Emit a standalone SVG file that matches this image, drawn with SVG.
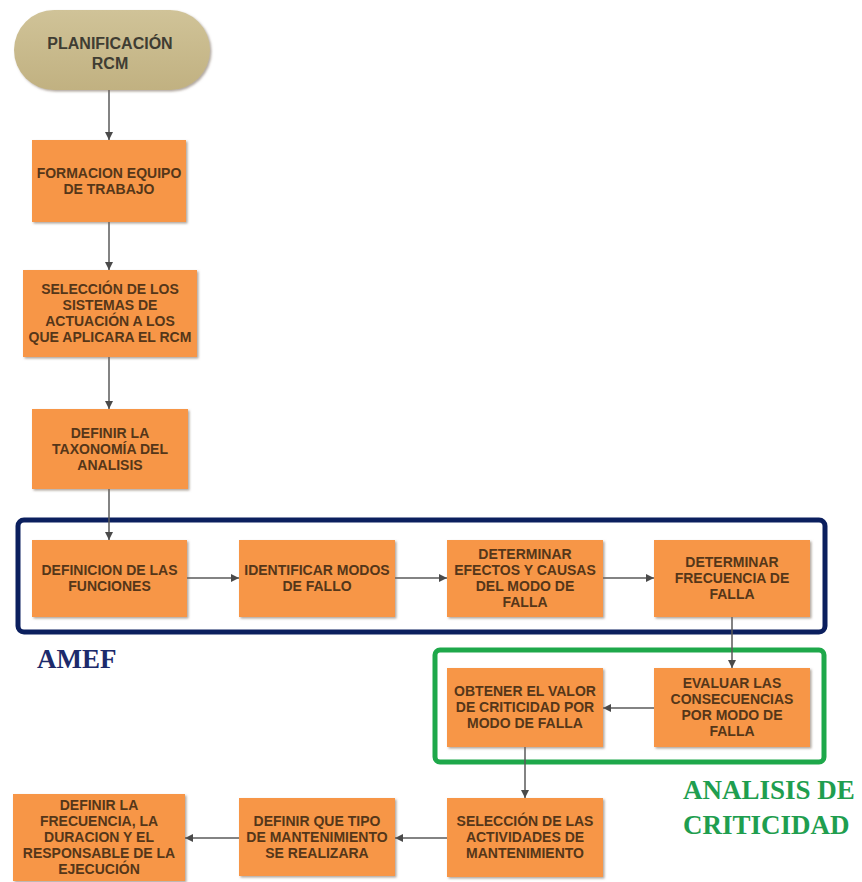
<svg xmlns="http://www.w3.org/2000/svg" width="862" height="882" viewBox="0 0 862 882">
<defs>
<style>
.box{fill:#f79646;filter:url(#sh);}
.t{font-family:"Liberation Sans",Arial,sans-serif;font-weight:bold;font-size:14px;fill:#553619;text-anchor:middle;}
.pt{font-family:"Liberation Sans",Arial,sans-serif;font-weight:bold;font-size:16px;fill:#3f3d33;text-anchor:middle;}
.c{fill:none;stroke:#5a5a5a;stroke-width:1.5;marker-end:url(#ah);}
.lbl{font-family:"Liberation Serif","Times New Roman",serif;font-weight:bold;}
</style>
<filter id="sh" x="-10%" y="-10%" width="125%" height="125%">
<feDropShadow dx="1.5" dy="1.5" stdDeviation="1.2" flood-color="#7a6a5a" flood-opacity="0.6"/>
</filter>
<linearGradient id="pg" x1="0" y1="0" x2="0" y2="1">
<stop offset="0" stop-color="#d0c398"/>
<stop offset="1" stop-color="#c1b181"/>
</linearGradient>
<marker id="ah" markerUnits="userSpaceOnUse" markerWidth="9" markerHeight="9" refX="8" refY="4.5" orient="auto">
<path d="M0,0.5 L8,4.5 L0,8.5 z" fill="#4a4a4a"/>
</marker>
</defs>
<rect width="862" height="882" fill="#ffffff"/>

<g id="frames">
<rect x="18" y="520" width="807" height="112" rx="6" fill="none" stroke="#0b1f5e" stroke-width="5"/>
<rect x="435" y="650" width="389" height="112" rx="5" fill="none" stroke="#1ea84a" stroke-width="5"/>
</g>

<g id="connectors">
<path class="c" d="M109,90 V140"/>
<path class="c" d="M109,222 V270"/>
<path class="c" d="M109,357 V409"/>
<path class="c" d="M109,489 V540"/>
<path class="c" d="M187,578 H239"/>
<path class="c" d="M395,578 H447"/>
<path class="c" d="M603,578 H654"/>
<path class="c" d="M732,617 V668"/>
<path class="c" d="M654,708 H603"/>
<path class="c" d="M525,747 V798"/>
<path class="c" d="M447,838 H395"/>
<path class="c" d="M239,838 H185"/>
</g>

<g id="n-planificacion">
<rect x="14" y="10" width="196" height="80" rx="40" fill="url(#pg)" filter="url(#sh)"/>
<text class="pt" x="110" y="49">PLANIFICACIÓN</text>
<text class="pt" x="110" y="69">RCM</text>
</g>

<g id="n-formacion">
<rect class="box" x="32" y="140" width="154" height="82"/>
<text class="t" x="109" y="178">FORMACION EQUIPO</text>
<text class="t" x="109" y="194">DE TRABAJO</text>
</g>

<g id="n-seleccion-sistemas">
<rect class="box" x="23" y="270" width="174" height="87"/>
<text class="t" x="110" y="294">SELECCIÓN DE LOS</text>
<text class="t" x="110" y="310">SISTEMAS DE</text>
<text class="t" x="110" y="326">ACTUACIÓN A LOS</text>
<text class="t" x="110" y="342">QUE APLICARA EL RCM</text>
</g>

<g id="n-taxonomia">
<rect class="box" x="32" y="409" width="156" height="80"/>
<text class="t" x="110" y="438">DEFINIR LA</text>
<text class="t" x="110" y="454">TAXONOMÍA DEL</text>
<text class="t" x="110" y="470">ANALISIS</text>
</g>

<g id="n-funciones">
<rect class="box" x="32" y="540" width="155" height="77"/>
<text class="t" x="109.5" y="575">DEFINICION DE LAS</text>
<text class="t" x="109.5" y="591">FUNCIONES</text>
</g>

<g id="n-modos">
<rect class="box" x="239" y="540" width="156" height="77"/>
<text class="t" x="317" y="575">IDENTIFICAR MODOS</text>
<text class="t" x="317" y="591">DE FALLO</text>
</g>

<g id="n-efectos">
<rect class="box" x="447" y="540" width="156" height="77"/>
<text class="t" x="525" y="559">DETERMINAR</text>
<text class="t" x="525" y="575">EFECTOS Y CAUSAS</text>
<text class="t" x="525" y="591">DEL MODO DE</text>
<text class="t" x="525" y="607">FALLA</text>
</g>

<g id="n-frecuencia">
<rect class="box" x="654" y="540" width="156" height="77"/>
<text class="t" x="732" y="567">DETERMINAR</text>
<text class="t" x="732" y="583">FRECUENCIA DE</text>
<text class="t" x="732" y="599">FALLA</text>
</g>

<g id="n-consecuencias">
<rect class="box" x="654" y="668" width="156" height="79"/>
<text class="t" x="732" y="688">EVALUAR LAS</text>
<text class="t" x="732" y="704">CONSECUENCIAS</text>
<text class="t" x="732" y="720">POR MODO DE</text>
<text class="t" x="732" y="736">FALLA</text>
</g>

<g id="n-criticidad">
<rect class="box" x="447" y="668" width="156" height="79"/>
<text class="t" x="525" y="696">OBTENER EL VALOR</text>
<text class="t" x="525" y="712">DE CRITICIDAD POR</text>
<text class="t" x="525" y="728">MODO DE FALLA</text>
</g>

<g id="n-actividades">
<rect class="box" x="447" y="798" width="156" height="79"/>
<text class="t" x="525" y="826">SELECCIÓN DE LAS</text>
<text class="t" x="525" y="842">ACTIVIDADES DE</text>
<text class="t" x="525" y="858">MANTENIMIENTO</text>
</g>

<g id="n-tipo">
<rect class="box" x="239" y="798" width="156" height="78"/>
<text class="t" x="317" y="826">DEFINIR QUE TIPO</text>
<text class="t" x="317" y="842">DE MANTENIMIENTO</text>
<text class="t" x="317" y="858">SE REALIZARA</text>
</g>

<g id="n-frecuencia-ejecucion">
<rect class="box" x="13" y="794" width="172" height="87"/>
<text class="t" x="99" y="810">DEFINIR LA</text>
<text class="t" x="99" y="826">FRECUENCIA, LA</text>
<text class="t" x="99" y="842">DURACION Y EL</text>
<text class="t" x="99" y="858">RESPONSABLE DE LA</text>
<text class="t" x="99" y="874">EJECUCIÓN</text>
</g>

<g id="labels">
<text class="lbl" x="37" y="668" font-size="27" fill="#1c2a6b">AMEF</text>
<text class="lbl" x="683" y="799" font-size="27" fill="#1f9e4f">ANALISIS DE</text>
<text class="lbl" x="683" y="834" font-size="27" fill="#1f9e4f">CRITICIDAD</text>
</g>
</svg>
